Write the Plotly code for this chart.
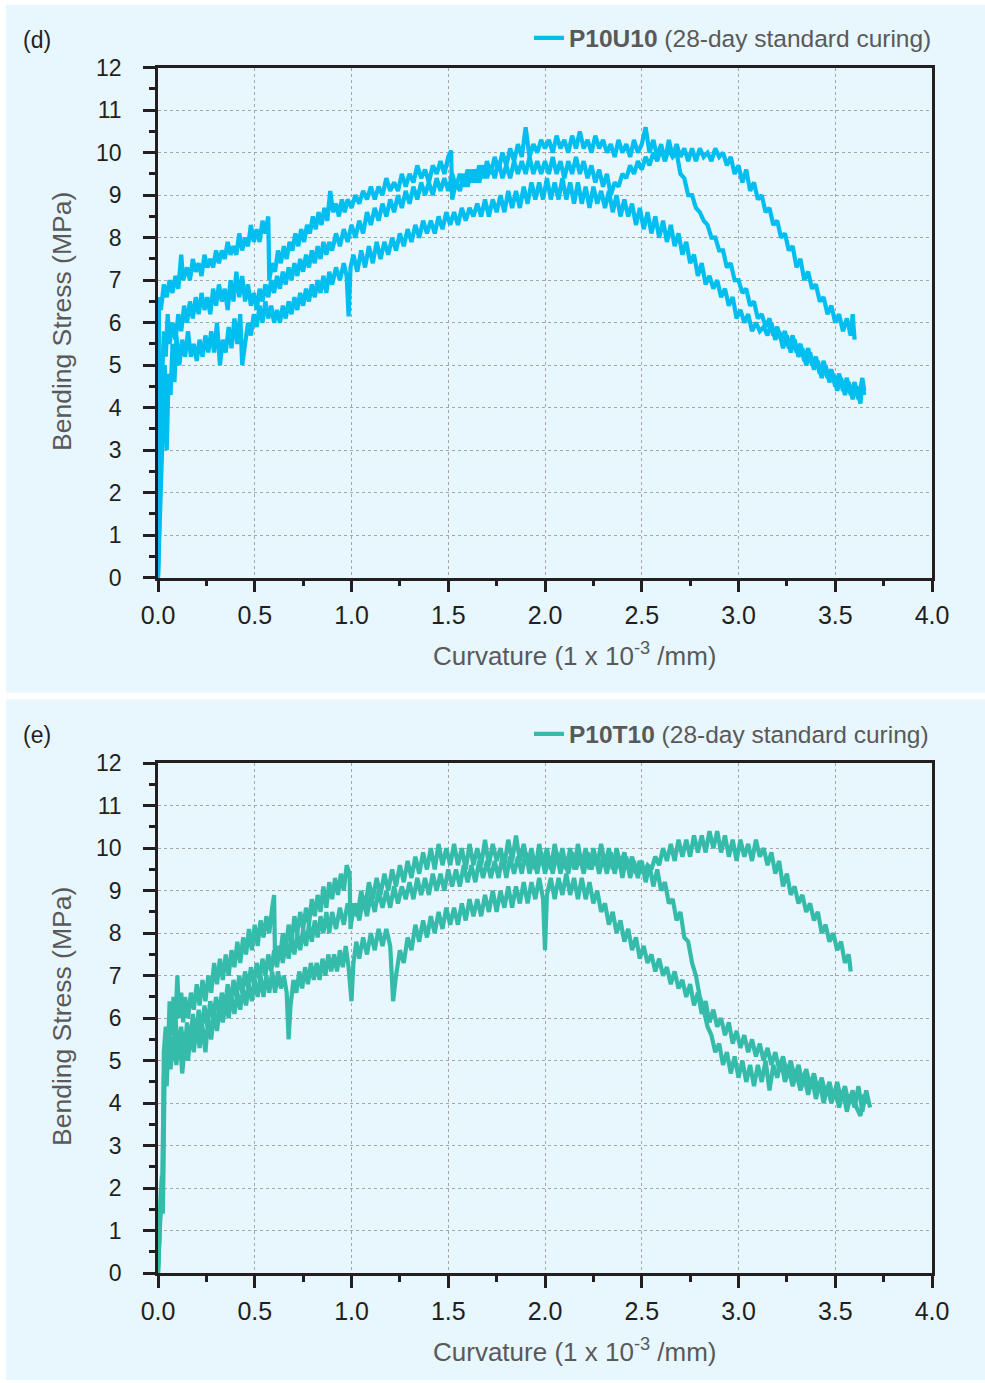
import plotly.graph_objects as go

# ---------------- data ----------------
# Panel (d): P10U10, three specimens  (curvature 1e-3/mm, bending stress MPa)
d_spec1 = [(0,0),(0.005,6.6),(0.015,6.3),(0.03,6.9),(0.045,6.6),(0.06,7.0),(0.075,6.7),(0.09,7.1),(0.105,6.8),(0.12,7.6),
(0.13,7.0),(0.15,7.3),(0.165,7.0),(0.18,7.5),(0.195,7.2),(0.21,7.4),(0.225,7.1),(0.24,7.6),(0.255,7.3),(0.27,7.5),
(0.285,7.3),(0.30,7.7),(0.315,7.4),(0.33,7.7),(0.345,7.5),(0.36,7.9),(0.375,7.6),(0.39,7.8),(0.405,7.6),(0.42,8.1),
(0.435,7.7),(0.45,8.0),(0.465,7.8),(0.48,8.3),(0.495,7.9),(0.51,8.2),(0.525,7.9),(0.54,8.4),(0.555,8.1),(0.57,8.5),
(0.575,7.0),(0.59,7.4),(0.605,7.2),(0.62,7.7),(0.635,7.4),(0.65,7.8),(0.665,7.5),(0.68,7.9),(0.695,7.7),(0.71,8.1),
(0.725,7.8),(0.74,8.2),(0.755,7.9),(0.77,8.3),(0.785,8.1),(0.80,8.5),(0.815,8.2),(0.83,8.6),(0.845,8.3),(0.86,8.7),
(0.875,8.4),(0.89,9.1),(0.905,8.6),(0.92,8.8),(0.935,8.5),(0.95,8.9),(0.965,8.6),(0.98,8.9),(1.0,8.7),(1.02,9.0),
(1.04,8.8),(1.06,9.1),(1.08,8.9),(1.10,9.2),(1.12,8.9),(1.14,9.2),(1.16,9.0),(1.18,9.4),(1.20,9.1),(1.22,9.3),
(1.24,9.1),(1.26,9.5),(1.28,9.2),(1.30,9.5),(1.32,9.3),(1.34,9.7),(1.36,9.4),(1.38,9.6),(1.40,9.3),(1.42,9.7),
(1.44,9.5),(1.46,9.8),(1.48,9.5),(1.50,9.9),(1.515,10.05),(1.52,8.9),(1.54,9.3),(1.56,9.1),(1.58,9.5),(1.60,9.2),
(1.62,9.6),(1.64,9.3),(1.66,9.7),(1.68,9.4),(1.70,9.8),(1.72,9.5),(1.74,9.9),(1.76,9.6),(1.78,10.0),(1.80,9.7),
(1.82,10.1),(1.84,9.8),(1.86,10.2),(1.88,9.9),(1.90,10.6),(1.92,9.9),(1.94,10.2),(1.96,10.0),(1.98,10.3),(2.00,10.1),
(2.02,10.3),(2.04,10.0),(2.06,10.4),(2.08,10.1),(2.10,10.3),(2.12,10.0),(2.14,10.4),(2.16,10.1),(2.18,10.5),(2.20,10.1),
(2.22,10.3),(2.24,10.0),(2.26,10.4),(2.28,10.1),(2.30,10.3),(2.32,10.0),(2.34,10.2),(2.36,9.9),(2.38,10.3),(2.40,10.0),
(2.42,10.2),(2.44,9.9),(2.46,10.3),(2.48,10.0),(2.50,10.2),(2.52,10.6),(2.54,10.0),(2.56,10.3),(2.58,9.9),(2.60,10.2),
(2.62,9.8),(2.64,10.3),(2.66,9.9),(2.68,10.2),(2.70,9.9),(2.72,10.1),(2.74,9.8),(2.76,10.1),(2.78,9.8),(2.80,10.1),
(2.82,9.9),(2.84,10.0),(2.86,9.8),(2.88,10.1),(2.90,9.9),(2.92,10.0),(2.94,9.7),(2.96,9.9),(2.98,9.5),(3.00,9.7),
(3.02,9.3),(3.04,9.6),(3.06,9.1),(3.08,9.3),(3.10,8.9),(3.12,9.0),(3.14,8.6),(3.16,8.7),(3.18,8.3),(3.20,8.4),
(3.22,8.0),(3.24,8.1),(3.26,7.7),(3.28,7.8),(3.30,7.3),(3.32,7.5),(3.34,7.0),(3.36,7.2),(3.38,6.8),(3.40,6.9),
(3.42,6.5),(3.44,6.6),(3.46,6.2),(3.48,6.4),(3.50,6.0),(3.52,6.2),(3.54,5.8),(3.56,6.1),(3.58,5.7),(3.59,6.2),(3.60,5.6)]

d_spec2 = [(0,0),(0.008,1.5),(0.012,5.3),(0.02,4.5),(0.03,5.8),(0.04,5.2),(0.05,6.2),(0.06,5.5),(0.075,6.0),(0.09,5.6),
(0.105,6.2),(0.12,5.8),(0.135,6.4),(0.15,6.0),(0.165,6.5),(0.18,6.1),(0.195,6.6),(0.21,6.2),(0.225,6.7),(0.24,6.3),
(0.255,6.6),(0.27,6.2),(0.285,6.8),(0.30,6.4),(0.315,6.9),(0.33,6.5),(0.345,6.8),(0.36,6.3),(0.375,7.0),(0.39,6.5),
(0.405,7.2),(0.42,6.6),(0.435,7.1),(0.45,6.5),(0.465,6.9),(0.48,6.4),(0.495,6.7),(0.51,6.3),(0.525,6.8),(0.54,6.5),
(0.555,6.9),(0.57,6.6),(0.585,7.0),(0.60,6.7),(0.615,7.1),(0.63,6.8),(0.645,7.2),(0.66,6.9),(0.675,7.3),(0.69,7.0),
(0.705,7.4),(0.72,7.1),(0.735,7.5),(0.75,7.2),(0.765,7.6),(0.78,7.3),(0.795,7.7),(0.81,7.4),(0.825,7.8),(0.84,7.5),
(0.855,7.9),(0.87,7.6),(0.885,7.9),(0.90,7.7),(0.92,8.1),(0.94,7.8),(0.96,8.2),(0.98,7.9),(1.00,8.3),(1.02,8.0),
(1.04,8.4),(1.06,8.1),(1.08,8.6),(1.10,8.3),(1.12,8.7),(1.14,8.4),(1.16,8.8),(1.18,8.5),(1.20,8.9),(1.22,8.6),
(1.24,9.0),(1.26,8.7),(1.28,9.1),(1.30,8.8),(1.32,9.2),(1.34,8.9),(1.36,9.3),(1.38,9.0),(1.40,9.3),(1.42,9.0),
(1.44,9.4),(1.46,9.1),(1.48,9.4),(1.50,9.1),(1.52,9.5),(1.54,9.2),(1.56,9.5),(1.58,9.2),(1.60,9.6),(1.62,9.3),
(1.64,9.6),(1.66,9.3),(1.68,9.7),(1.70,9.4),(1.72,9.7),(1.74,9.4),(1.76,9.8),(1.78,9.4),(1.80,9.7),(1.82,9.4),
(1.84,9.8),(1.86,9.5),(1.88,9.8),(1.90,9.5),(1.92,9.9),(1.94,9.5),(1.96,9.8),(1.98,9.5),(2.00,9.8),(2.02,9.5),
(2.04,9.9),(2.06,9.5),(2.08,9.8),(2.10,9.4),(2.12,9.8),(2.14,9.5),(2.16,9.9),(2.18,9.5),(2.20,9.8),(2.22,9.4),
(2.24,9.7),(2.26,9.3),(2.28,9.6),(2.30,9.2),(2.32,9.5),(2.34,9.0),(2.36,9.3),(2.38,9.2),(2.40,9.5),(2.42,9.4),
(2.44,9.7),(2.46,9.5),(2.48,9.8),(2.50,9.6),(2.52,9.9),(2.54,9.7),(2.56,10.0),(2.58,9.8),(2.60,10.1),(2.62,9.8),
(2.64,10.1),(2.66,9.9),(2.68,10.0),(2.70,9.5),(2.72,9.4),(2.74,9.0),(2.76,9.0),(2.78,8.7),(2.80,8.6),(2.82,8.4),
(2.84,8.3),(2.86,8.0),(2.88,8.0),(2.90,7.7),(2.92,7.7),(2.94,7.3),(2.96,7.4),(2.98,7.0),(3.00,7.0),(3.02,6.7),
(3.04,6.8),(3.06,6.4),(3.08,6.5),(3.10,6.1),(3.12,6.2),(3.14,5.9),(3.16,6.1),(3.18,5.7),(3.20,5.9),(3.22,5.6),
(3.24,5.8),(3.26,5.4),(3.28,5.7),(3.30,5.3),(3.32,5.5),(3.34,5.1),(3.36,5.4),(3.38,5.0),(3.40,5.2),(3.42,4.8),
(3.44,5.1),(3.46,4.7),(3.48,4.9),(3.50,4.5),(3.52,4.8),(3.54,4.4),(3.56,4.7),(3.58,4.3),(3.60,4.6),(3.62,4.2),
(3.64,4.7),(3.65,4.4)]

d_spec3 = [(0,0),(0.02,2.9),(0.035,5.0),(0.045,3.0),(0.055,4.8),(0.065,4.3),(0.075,5.5),(0.085,4.6),(0.095,5.7),(0.11,5.0),
(0.125,5.6),(0.14,5.2),(0.155,5.8),(0.17,5.2),(0.185,5.5),(0.20,5.1),(0.215,5.6),(0.23,5.2),(0.245,5.7),(0.26,5.3),
(0.275,5.8),(0.29,5.3),(0.305,6.0),(0.32,5.0),(0.335,5.6),(0.35,5.3),(0.365,5.9),(0.38,5.4),(0.395,6.1),(0.41,5.5),
(0.425,6.2),(0.435,5.0),(0.45,5.6),(0.465,6.0),(0.48,5.7),(0.495,6.2),(0.51,5.9),(0.525,6.4),(0.54,6.0),(0.555,6.5),
(0.57,6.1),(0.585,6.4),(0.60,6.0),(0.615,6.3),(0.63,6.0),(0.645,6.4),(0.66,6.1),(0.675,6.5),(0.69,6.2),(0.705,6.6),
(0.72,6.3),(0.735,6.7),(0.75,6.4),(0.765,6.8),(0.78,6.5),(0.795,6.9),(0.81,6.6),(0.825,7.0),(0.84,6.7),(0.855,7.1),
(0.87,6.7),(0.885,7.2),(0.90,6.9),(0.92,7.3),(0.94,7.0),(0.96,7.4),(0.975,7.1),(0.985,6.15),(0.995,7.3),(1.01,7.6),
(1.03,7.2),(1.05,7.7),(1.07,7.3),(1.09,7.8),(1.11,7.4),(1.13,7.9),(1.15,7.5),(1.17,7.9),(1.19,7.6),(1.21,8.0),
(1.23,7.7),(1.25,8.1),(1.27,7.8),(1.29,8.2),(1.31,7.9),(1.33,8.3),(1.35,8.0),(1.37,8.4),(1.39,8.1),(1.41,8.4),
(1.43,8.1),(1.45,8.5),(1.47,8.2),(1.49,8.6),(1.51,8.3),(1.53,8.6),(1.55,8.3),(1.57,8.7),(1.59,8.4),(1.61,8.7),
(1.63,8.5),(1.65,8.8),(1.67,8.5),(1.69,8.9),(1.71,8.5),(1.73,8.9),(1.75,8.6),(1.77,9.0),(1.79,8.6),(1.81,9.1),
(1.83,8.7),(1.85,9.1),(1.87,8.7),(1.89,9.2),(1.91,8.8),(1.93,9.3),(1.95,8.9),(1.97,9.3),(1.99,8.9),(2.01,9.4),
(2.03,8.9),(2.05,9.3),(2.07,8.9),(2.09,9.4),(2.11,8.9),(2.13,9.3),(2.15,8.8),(2.17,9.3),(2.19,8.8),(2.21,9.2),
(2.23,8.7),(2.25,9.2),(2.27,8.8),(2.29,9.1),(2.31,8.7),(2.33,9.1),(2.35,8.6),(2.37,9.0),(2.39,8.5),(2.41,8.9),
(2.43,8.5),(2.45,8.8),(2.47,8.3),(2.49,8.7),(2.51,8.2),(2.53,8.6),(2.55,8.1),(2.57,8.5),(2.59,8.0),(2.61,8.4),
(2.63,7.9),(2.65,8.3),(2.67,7.8),(2.69,8.1),(2.71,7.6),(2.73,7.9),(2.75,7.4),(2.77,7.6),(2.79,7.1),(2.81,7.4),
(2.83,6.9),(2.85,7.1),(2.87,6.8),(2.89,7.0),(2.91,6.6),(2.93,6.8),(2.95,6.4),(2.97,6.6),(2.99,6.1),(3.01,6.3),
(3.03,6.0),(3.05,6.2),(3.07,5.8),(3.09,6.0),(3.11,5.8),(3.13,5.9),(3.15,5.7),(3.17,6.0),(3.19,5.6),(3.21,5.8),
(3.23,5.4),(3.25,5.7),(3.27,5.3),(3.29,5.6),(3.31,5.2),(3.33,5.4),(3.35,5.0),(3.37,5.3),(3.39,4.9),(3.41,5.1),
(3.43,4.7),(3.45,5.0),(3.47,4.6),(3.49,4.8),(3.51,4.4),(3.53,4.7),(3.55,4.3),(3.57,4.6),(3.59,4.2),(3.61,4.5),
(3.63,4.1),(3.64,4.6),(3.65,4.3)]

# Panel (e): P10T10, three specimens
e_spec1 = [(0,0),(0.01,1.2),(0.02,2.2),(0.025,1.5),(0.03,5.2),(0.04,5.8),(0.05,5.0),(0.06,6.4),(0.07,5.6),(0.08,6.5),
(0.09,5.9),(0.10,7.0),(0.11,6.0),(0.12,6.6),(0.13,5.9),(0.14,6.5),(0.155,6.0),(0.17,6.6),(0.185,6.2),(0.20,6.8),
(0.215,6.3),(0.23,6.9),(0.245,6.4),(0.26,7.0),(0.275,6.6),(0.29,7.3),(0.305,6.8),(0.32,7.4),(0.335,6.9),(0.35,7.5),
(0.365,7.0),(0.38,7.6),(0.395,7.2),(0.41,7.8),(0.425,7.3),(0.44,7.9),(0.455,7.5),(0.47,8.1),(0.485,7.6),(0.50,8.2),
(0.515,7.7),(0.53,8.3),(0.545,7.9),(0.56,8.4),(0.575,8.0),(0.59,8.6),(0.60,8.9),(0.605,7.3),(0.615,7.7),(0.63,7.4),
(0.645,8.0),(0.66,7.6),(0.675,8.2),(0.69,7.8),(0.705,8.4),(0.72,8.0),(0.735,8.5),(0.75,8.1),(0.765,8.6),(0.78,8.2),
(0.795,8.8),(0.81,8.4),(0.825,8.9),(0.84,8.5),(0.855,9.1),(0.87,8.6),(0.885,9.2),(0.90,8.8),(0.915,9.3),(0.93,8.9),
(0.945,9.4),(0.96,9.0),(0.975,9.6),(0.99,9.4),(0.995,8.1),(1.01,8.7),(1.03,8.4),(1.05,9.0),(1.07,8.6),(1.09,9.2),
(1.11,8.8),(1.13,9.3),(1.15,8.9),(1.17,9.4),(1.19,9.0),(1.21,9.5),(1.23,9.1),(1.25,9.6),(1.27,9.2),(1.29,9.7),
(1.31,9.3),(1.33,9.8),(1.35,9.4),(1.37,9.9),(1.39,9.5),(1.41,10.0),(1.43,9.5),(1.45,10.1),(1.47,9.6),(1.49,10.0),
(1.51,9.6),(1.53,10.1),(1.55,9.6),(1.57,10.0),(1.59,9.5),(1.61,10.1),(1.63,9.6),(1.65,10.0),(1.67,9.6),(1.69,10.2),
(1.71,9.6),(1.73,10.1),(1.75,9.7),(1.77,10.0),(1.79,9.6),(1.81,10.2),(1.83,9.7),(1.85,10.3),(1.87,9.7),(1.89,10.1),
(1.91,9.6),(1.93,10.0),(1.95,9.5),(1.97,10.1),(1.99,9.6),(2.01,10.0),(2.03,9.5),(2.05,10.1),(2.07,9.6),(2.09,10.0),
(2.11,9.5),(2.13,10.0),(2.15,9.5),(2.17,10.1),(2.19,9.6),(2.21,10.0),(2.23,9.5),(2.25,10.0),(2.27,9.6),(2.29,10.1),
(2.31,9.6),(2.33,10.0),(2.35,9.5),(2.37,10.0),(2.39,9.6),(2.41,9.9),(2.43,9.5),(2.45,9.8),(2.47,9.4),(2.49,9.7),
(2.51,9.4),(2.53,9.6),(2.55,9.5),(2.57,9.8),(2.59,9.6),(2.61,10.0),(2.63,9.7),(2.65,10.1),(2.67,9.7),(2.69,10.2),
(2.71,9.8),(2.73,10.2),(2.75,9.8),(2.77,10.3),(2.79,9.9),(2.81,10.3),(2.83,9.9),(2.85,10.4),(2.87,10.0),(2.89,10.4),
(2.91,9.9),(2.93,10.3),(2.95,9.8),(2.97,10.2),(2.99,9.7),(3.01,10.2),(3.03,9.8),(3.05,10.1),(3.07,9.7),(3.09,10.2),
(3.11,9.8),(3.13,10.0),(3.15,9.6),(3.17,9.9),(3.19,9.4),(3.21,9.7),(3.23,9.1),(3.25,9.4),(3.27,8.9),(3.29,9.1),
(3.31,8.7),(3.33,8.9),(3.35,8.5),(3.37,8.7),(3.39,8.3),(3.41,8.5),(3.43,8.0),(3.45,8.2),(3.47,7.8),(3.49,8.0),
(3.51,7.6),(3.53,7.8),(3.55,7.3),(3.57,7.5),(3.58,7.1)]

e_spec2 = [(0,0),(0.015,2.0),(0.02,1.6),(0.03,4.6),(0.04,5.4),(0.05,4.8),(0.06,5.6),(0.075,5.0),(0.09,6.0),(0.105,5.2),
(0.12,5.8),(0.135,5.1),(0.15,5.9),(0.165,5.3),(0.18,6.1),(0.195,5.5),(0.21,6.2),(0.225,5.7),(0.24,6.3),(0.255,5.8),
(0.27,6.4),(0.285,6.0),(0.30,6.5),(0.315,6.1),(0.33,6.6),(0.345,6.2),(0.36,6.8),(0.375,6.3),(0.39,6.9),(0.405,6.5),
(0.42,7.0),(0.435,6.6),(0.45,7.1),(0.465,6.7),(0.48,7.2),(0.495,6.8),(0.51,7.3),(0.525,6.9),(0.54,7.4),(0.555,7.0),
(0.57,7.5),(0.585,7.1),(0.60,7.6),(0.615,7.2),(0.63,7.7),(0.645,7.3),(0.66,7.8),(0.675,7.4),(0.69,7.9),(0.705,7.5),
(0.72,8.0),(0.735,7.6),(0.75,8.1),(0.765,7.7),(0.78,8.2),(0.795,7.8),(0.81,8.3),(0.825,7.9),(0.84,8.4),(0.855,8.0),
(0.87,8.5),(0.885,8.0),(0.90,8.5),(0.92,8.1),(0.94,8.6),(0.96,8.2),(0.98,8.7),(1.00,8.3),(1.02,8.7),(1.04,8.3),
(1.06,8.8),(1.08,8.4),(1.10,8.9),(1.12,8.5),(1.14,9.0),(1.16,8.6),(1.18,9.0),(1.20,8.6),(1.22,9.1),(1.24,8.7),
(1.26,9.1),(1.28,8.8),(1.30,9.2),(1.32,8.8),(1.34,9.3),(1.36,8.9),(1.38,9.3),(1.40,8.9),(1.42,9.4),(1.44,9.0),
(1.46,9.4),(1.48,9.0),(1.50,9.5),(1.52,9.1),(1.54,9.5),(1.56,9.1),(1.58,9.6),(1.60,9.2),(1.62,9.6),(1.64,9.2),
(1.66,9.7),(1.68,9.3),(1.70,9.7),(1.72,9.3),(1.74,9.7),(1.76,9.3),(1.78,9.8),(1.80,9.3),(1.82,9.8),(1.84,9.4),
(1.86,9.8),(1.88,9.4),(1.90,9.9),(1.92,9.4),(1.94,9.8),(1.96,9.4),(1.98,9.9),(2.00,9.4),(2.02,9.8),(2.04,9.4),
(2.06,9.9),(2.08,9.4),(2.10,9.8),(2.12,9.4),(2.14,9.9),(2.16,9.5),(2.18,9.8),(2.20,9.4),(2.22,9.9),(2.24,9.5),
(2.26,9.8),(2.28,9.4),(2.30,9.8),(2.32,9.4),(2.34,9.9),(2.36,9.4),(2.38,9.8),(2.40,9.3),(2.42,9.8),(2.44,9.3),
(2.46,9.7),(2.48,9.3),(2.50,9.7),(2.52,9.2),(2.54,9.6),(2.56,9.1),(2.58,9.5),(2.60,9.0),(2.62,9.2),(2.64,8.7),
(2.66,8.8),(2.68,8.3),(2.70,8.5),(2.72,7.9),(2.74,7.8),(2.76,7.3),(2.78,7.0),(2.80,6.5),(2.82,6.2),(2.84,5.8),
(2.86,5.6),(2.88,5.2),(2.90,5.4),(2.92,4.9),(2.94,5.2),(2.96,4.7),(2.98,5.1),(3.00,4.6),(3.02,5.0),(3.04,4.5),
(3.06,4.9),(3.08,4.4),(3.10,4.9),(3.12,4.5),(3.14,5.0),(3.16,4.3),(3.18,4.9),(3.20,4.6),(3.22,5.0),(3.24,4.5),
(3.26,4.8),(3.28,4.4),(3.30,4.7),(3.32,4.3),(3.34,4.6),(3.36,4.2),(3.38,4.6),(3.40,4.1),(3.42,4.5),(3.44,4.0),
(3.46,4.4),(3.48,4.0),(3.50,4.3),(3.52,3.9),(3.54,4.3),(3.56,3.8),(3.58,4.2),(3.60,3.9),(3.62,4.4),(3.64,3.8),
(3.66,4.3),(3.68,3.9)]

e_spec3 = [(0,0),(0.01,1.0),(0.02,2.3),(0.025,1.4),(0.035,5.0),(0.045,4.4),(0.055,5.6),(0.065,4.8),(0.08,5.5),(0.095,4.9),
(0.11,5.7),(0.125,4.7),(0.14,5.4),(0.155,5.0),(0.17,5.7),(0.185,5.2),(0.20,5.9),(0.215,5.3),(0.23,5.8),(0.245,5.2),
(0.26,6.0),(0.275,5.5),(0.29,6.2),(0.305,5.7),(0.32,6.3),(0.335,5.9),(0.35,6.4),(0.365,6.0),(0.38,6.5),(0.395,6.1),
(0.41,6.6),(0.425,6.2),(0.44,6.7),(0.455,6.3),(0.47,6.8),(0.485,6.4),(0.50,6.9),(0.515,6.5),(0.53,7.0),(0.545,6.5),
(0.56,7.0),(0.575,6.6),(0.59,7.1),(0.605,6.6),(0.62,7.1),(0.635,6.7),(0.65,7.0),(0.665,6.6),(0.675,5.5),(0.685,6.3),
(0.70,6.9),(0.715,6.6),(0.73,7.1),(0.745,6.7),(0.76,7.2),(0.775,6.8),(0.79,7.3),(0.805,6.9),(0.82,7.3),(0.835,6.9),
(0.85,7.4),(0.865,7.0),(0.88,7.5),(0.895,7.1),(0.91,7.5),(0.925,7.1),(0.94,7.6),(0.955,7.2),(0.97,7.7),(0.985,7.2),
(1.00,6.4),(1.01,7.3),(1.025,7.8),(1.04,7.4),(1.06,7.9),(1.08,7.5),(1.10,8.0),(1.12,7.6),(1.14,8.1),(1.16,7.7),
(1.18,8.1),(1.20,7.7),(1.215,6.4),(1.23,7.0),(1.25,7.6),(1.27,7.3),(1.29,7.9),(1.31,7.6),(1.33,8.2),(1.35,7.8),
(1.37,8.3),(1.39,7.9),(1.41,8.4),(1.43,8.0),(1.45,8.5),(1.47,8.1),(1.49,8.6),(1.51,8.2),(1.53,8.6),(1.55,8.2),
(1.57,8.7),(1.59,8.3),(1.61,8.8),(1.63,8.4),(1.65,8.8),(1.67,8.4),(1.69,8.9),(1.71,8.5),(1.73,9.0),(1.75,8.5),
(1.77,9.0),(1.79,8.6),(1.81,9.1),(1.83,8.6),(1.85,9.1),(1.87,8.7),(1.89,9.2),(1.91,8.7),(1.93,9.2),(1.95,8.8),
(1.97,9.3),(1.99,8.8),(2.00,7.6),(2.01,8.9),(2.03,9.3),(2.05,8.8),(2.07,9.3),(2.09,8.9),(2.11,9.4),(2.13,8.9),
(2.15,9.3),(2.17,8.8),(2.19,9.3),(2.21,8.8),(2.23,9.2),(2.25,8.7),(2.27,9.0),(2.29,8.5),(2.31,8.7),(2.33,8.2),
(2.35,8.5),(2.37,8.0),(2.39,8.3),(2.41,7.8),(2.43,8.1),(2.45,7.6),(2.47,7.9),(2.49,7.4),(2.51,7.7),(2.53,7.3),
(2.55,7.5),(2.57,7.1),(2.59,7.4),(2.61,7.0),(2.63,7.2),(2.65,6.8),(2.67,7.1),(2.69,6.7),(2.71,6.9),(2.73,6.5),
(2.75,6.8),(2.77,6.3),(2.79,6.6),(2.81,6.1),(2.83,6.4),(2.85,5.9),(2.87,6.2),(2.89,5.8),(2.91,6.0),(2.93,5.6),
(2.95,5.9),(2.97,5.4),(2.99,5.7),(3.01,5.3),(3.03,5.6),(3.05,5.2),(3.07,5.5),(3.09,5.1),(3.11,5.4),(3.13,5.0),
(3.15,5.3),(3.17,4.9),(3.19,5.2),(3.21,4.8),(3.23,5.1),(3.25,4.7),(3.27,5.0),(3.29,4.6),(3.31,4.9),(3.33,4.5),
(3.35,4.8),(3.37,4.4),(3.39,4.7),(3.41,4.3),(3.43,4.6),(3.45,4.2),(3.47,4.5),(3.49,4.1),(3.51,4.5),(3.53,4.1),
(3.55,4.4),(3.57,4.0),(3.59,4.3),(3.61,3.9),(3.63,3.7),(3.65,4.2),(3.67,4.0)]

x_tickvals = [0, 0.5, 1, 1.5, 2, 2.5, 3, 3.5, 4]
x_ticktext = ["0.0", "0.5", "1.0", "1.5", "2.0", "2.5", "3.0", "3.5", "4.0"]
y_tickvals = list(range(0, 13))

panel_d_name = "<b>P10U10</b> (28-day standard curing)"
panel_e_name = "<b>P10T10</b> (28-day standard curing)"
color_d = "#00bef0"
color_e = "#34bbaa"

# ---------------- figure ----------------
W, H = 985, 1383
BG = "#e8f6fd"
INK = "#231f20"
GREY = "#595959"
FONT = "Liberation Sans, Arial, sans-serif"

def px_x(p):
    return p / W

def px_y(p):
    return 1 - p / H

fig = go.Figure()

def add_curves(specs, color, name, xa, ya, leg):
    for i, s in enumerate(specs):
        xs = [p[0] for p in s]
        ys = [p[1] for p in s]
        fig.add_trace(go.Scatter(
            x=xs, y=ys, mode="lines", name=name,
            line=dict(color=color, width=4.2),
            xaxis=xa, yaxis=ya, legend=leg,
            showlegend=(i == 0), hoverinfo="skip"))

add_curves([d_spec3, d_spec2, d_spec1], color_d, panel_d_name, "x", "y", "legend")
add_curves([e_spec3, e_spec2, e_spec1], color_e, panel_e_name, "x2", "y2", "legend2")

def xaxis_style(anchor):
    return dict(
        anchor=anchor, domain=[px_x(158), px_x(932)], range=[0, 4],
        tickvals=x_tickvals, ticktext=x_ticktext,
        ticks="outside", ticklen=12, tickwidth=2.5, tickcolor=INK,
        showline=True, linewidth=2.5, linecolor=INK, mirror=True,
        showgrid=True, gridcolor="#a6a6a6", griddash="dot", gridwidth=1.2,
        zeroline=False, tickfont=dict(size=25, color=INK, family=FONT),
        ticklabelstandoff=2, automargin=False,
        minor=dict(ticks="outside", ticklen=6, tickwidth=2.5, tickcolor=INK,
                   dtick=0.25, showgrid=False),
    )

def yaxis_style(anchor, top, bottom):
    return dict(
        anchor=anchor, domain=[px_y(bottom), px_y(top)], range=[0, 12],
        tickvals=y_tickvals,
        ticks="outside", ticklen=12, tickwidth=2.5, tickcolor=INK,
        showline=True, linewidth=2.5, linecolor=INK, mirror=True,
        showgrid=True, gridcolor="#a6a6a6", griddash="dot", gridwidth=1.2,
        zeroline=False, tickfont=dict(size=23, color=INK, family=FONT),
        ticklabelstandoff=17, automargin=False,
        minor=dict(ticks="outside", ticklen=6, tickwidth=2.5, tickcolor=INK,
                   dtick=0.5, showgrid=False),
    )

legend_common = dict(
    xanchor="right", yanchor="middle", bgcolor="rgba(0,0,0,0)",
    font=dict(size=24.5, color=GREY, family=FONT), borderwidth=0,
    itemwidth=30, tracegroupgap=0,
)

fig.update_layout(
    width=W, height=H, autosize=False,
    margin=dict(l=0, r=0, t=0, b=0, pad=0, autoexpand=False),
    paper_bgcolor="white", plot_bgcolor="rgba(0,0,0,0)",
    font=dict(family=FONT, color=INK),
    xaxis=xaxis_style("y"),
    yaxis=yaxis_style("x", 67.7, 577.7),
    xaxis2=xaxis_style("y2"),
    yaxis2=yaxis_style("x2", 763.2, 1273.2),
    legend=dict(x=px_x(937), y=px_y(38), **legend_common),
    legend2=dict(x=px_x(934), y=px_y(734), **legend_common),
    shapes=[
        dict(type="rect", xref="paper", yref="paper", layer="below",
             x0=px_x(6), x1=1, y0=px_y(692.5), y1=px_y(5),
             fillcolor=BG, line=dict(width=0)),
        dict(type="rect", xref="paper", yref="paper", layer="below",
             x0=px_x(6), x1=1, y0=px_y(1380), y1=px_y(699.5),
             fillcolor=BG, line=dict(width=0)),
    ],
    annotations=[
        dict(text="(d)", x=px_x(21), y=px_y(40), xref="paper", yref="paper",
             xanchor="left", yanchor="middle", showarrow=False,
             font=dict(size=23, color=INK, family=FONT)),
        dict(text="(e)", x=px_x(21), y=px_y(735), xref="paper", yref="paper",
             xanchor="left", yanchor="middle", showarrow=False,
             font=dict(size=23, color=INK, family=FONT)),
        dict(text="Bending Stress (MPa)", x=px_x(62), y=px_y(322), xref="paper", yref="paper",
             textangle=-90, xanchor="center", yanchor="middle", showarrow=False,
             font=dict(size=26.5, color=GREY, family=FONT)),
        dict(text="Bending Stress (MPa)", x=px_x(62), y=px_y(1017), xref="paper", yref="paper",
             textangle=-90, xanchor="center", yanchor="middle", showarrow=False,
             font=dict(size=26.5, color=GREY, family=FONT)),
        dict(text="Curvature (1 x 10<sup>-3</sup> /mm)", x=px_x(574), y=px_y(654), xref="paper", yref="paper",
             xanchor="center", yanchor="middle", showarrow=False,
             font=dict(size=26, color=GREY, family=FONT)),
        dict(text="Curvature (1 x 10<sup>-3</sup> /mm)", x=px_x(574), y=px_y(1350), xref="paper", yref="paper",
             xanchor="center", yanchor="middle", showarrow=False,
             font=dict(size=26, color=GREY, family=FONT)),
    ],
)

fig.write_html("out.html")
